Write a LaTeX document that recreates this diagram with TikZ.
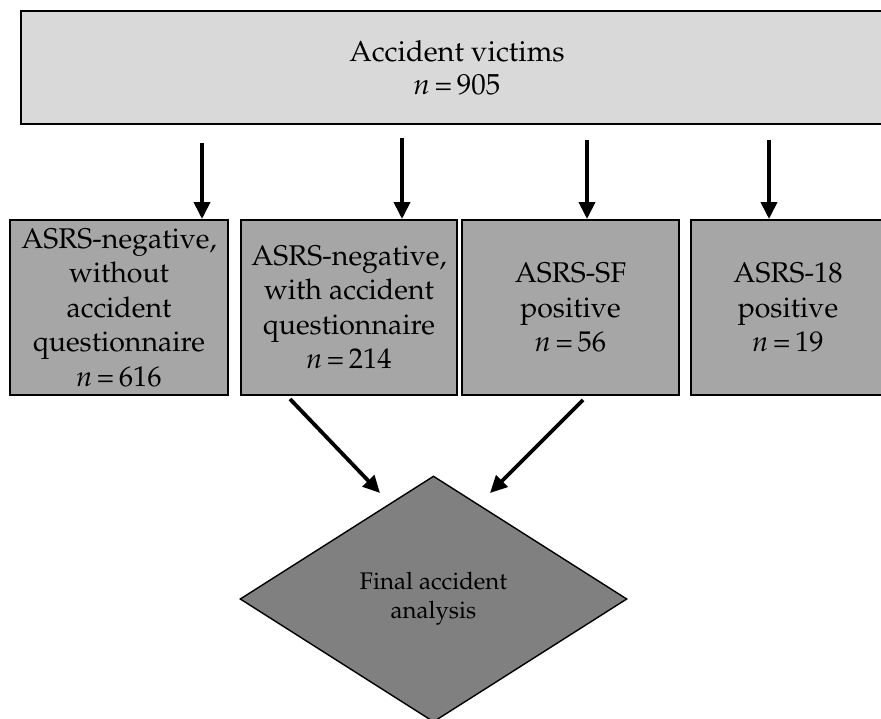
\documentclass[tikz,border=0pt]{standalone}
\usepackage[T1]{fontenc}
\usepackage{mathpazo}
\usetikzlibrary{shapes.geometric,arrows.meta}
\definecolor{topfill}{HTML}{D9D9D9}
\definecolor{boxfill}{HTML}{A6A6A6}
\definecolor{diafill}{HTML}{808080}
\newcommand{\nval}[1]{\textit{n}\,=\,#1}
\tikzset{
  topbox/.style={draw=black, line width=2.6pt, fill=topfill, minimum width=872pt, minimum height=113pt, inner sep=0pt, align=center, font=\fontsize{29}{33}\selectfont},
  grpbox/.style={draw=black, line width=2pt, fill=boxfill, minimum height=175pt, inner sep=0pt, align=center, font=\fontsize{28.5}{34.5}\selectfont},
  decision/.style={diamond, draw=black, line width=1.4pt, fill=diafill, minimum width=387pt, minimum height=246pt, aspect=1.573, inner sep=0pt, align=center, font=\fontsize{24}{29}\selectfont},
  flowarrow/.style={line width=3.8pt, -{Triangle[length=17pt,width=16pt]}}
}
\begin{document}
\begin{tikzpicture}[x=1pt,y=-1pt]
\useasboundingbox (0,0) rectangle (881,718);
\node[topbox] (top) at (457,67.5) {Accident victims\\\nval{905}};
\node[grpbox, minimum width=218pt] (b1) at (119,307.5) {ASRS-negative,\\without\\accident\\questionnaire\\\nval{616}};
\node[grpbox, minimum width=216pt] (b2) at (349,307.5) {ASRS-negative,\\with accident\\questionnaire\\\nval{214}};
\node[grpbox, minimum width=217pt] (b3) at (570.5,307.5) {ASRS-SF\\positive\\\nval{56}};
\node[grpbox, minimum width=194pt] (b4) at (788,307.5) {ASRS-18\\positive\\\nval{19}};
\node[decision] (fin) at (433.5,599) {Final accident\\analysis};
\coordinate (s1) at (202,143);
\coordinate (s2) at (402,138);
\coordinate (s3) at (587,140);
\coordinate (s4) at (769,140);
\draw[flowarrow] (s1) -- (s1 |- b1.north);
\draw[flowarrow] (s2) -- (s2 |- b2.north);
\draw[flowarrow] (s3) -- (s3 |- b3.north);
\draw[flowarrow] (s4) -- (s4 |- b4.north);
\coordinate (d1) at (290,399);
\coordinate (t1) at (380,493);
\coordinate (d2) at (583,400);
\coordinate (t2) at (490,493);
\draw[flowarrow] (d1) -- (t1);
\draw[flowarrow] (d2) -- (t2);
\end{tikzpicture}
\end{document}
